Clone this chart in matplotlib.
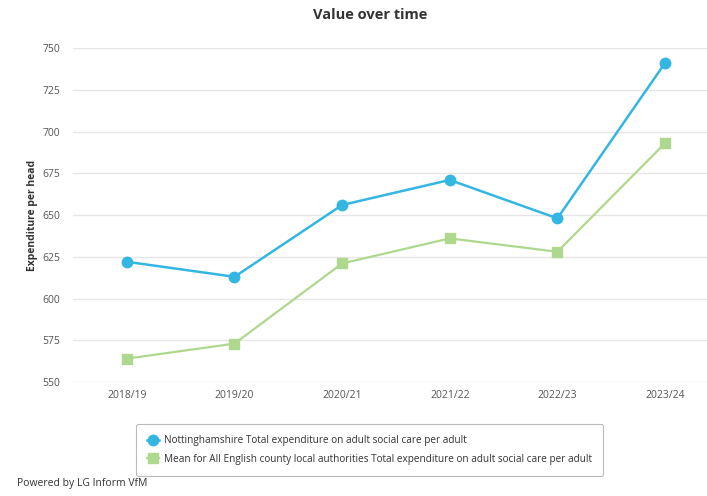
import matplotlib.pyplot as plt

plt.rcParams['font.family'] = ['Open Sans', 'DejaVu Sans']

years = ['2018/19', '2019/20', '2020/21', '2021/22', '2022/23', '2023/24']
notts = [622, 613, 656, 671, 648, 741]
county_mean = [564, 573, 621, 636, 628, 693]
yticks = [550, 575, 600, 625, 650, 675, 700, 725, 750]

blue = '#33b7e2'
green = '#afd88f'

fig = plt.figure(figsize=(7.07, 4.96), dpi=100)
ax = fig.add_axes([0.1033, 0.2298, 0.8967, 0.6734])

x = range(len(years))
ax.plot(x, notts, color=blue, lw=1.8, marker='o', ms=7.5,
        label='Nottinghamshire Total expenditure on adult social care per adult', zorder=3)
ax.plot(x, county_mean, color=green, lw=1.6, marker='s', ms=7,
        label='Mean for All English county local authorities Total expenditure on adult social care per adult', zorder=3)

ax.set_xlim(-0.5, 5.39)
ax.set_ylim(550, 750)
ax.set_yticks(yticks)
ax.set_xticks(list(x))
ax.set_xticklabels(years)
ax.tick_params(axis='both', length=0, labelsize=7.5, colors='#555555')
ax.tick_params(axis='y', pad=9)
ax.tick_params(axis='x', pad=6)
ax.grid(axis='y', color='#e6e6e6', lw=1)
ax.set_axisbelow(True)
for s in ax.spines.values():
    s.set_visible(False)

ax.set_ylabel('Expenditure per head', fontsize=7.5, fontweight='bold', color='#333333', labelpad=3)
fig.text(0.523, 0.97, 'Value over time', ha='center', va='center',
         fontsize=10.5, fontweight='bold', color='#333333')

leg = fig.legend(loc='center', bbox_to_anchor=(0.523, 0.093), fontsize=7.2,
                 frameon=True, fancybox=True, edgecolor='#aaaaaa',
                 handlelength=1.2, handletextpad=0.5, borderpad=1.1, labelspacing=0.75)
leg.get_frame().set_linewidth(0.8)
for t in leg.get_texts():
    t.set_color('#333333')

fig.text(0.024, 0.014, 'Powered by LG Inform VfM', fontsize=7.5, color='#333333', va='bottom')

fig.savefig('out.png', dpi=100)
